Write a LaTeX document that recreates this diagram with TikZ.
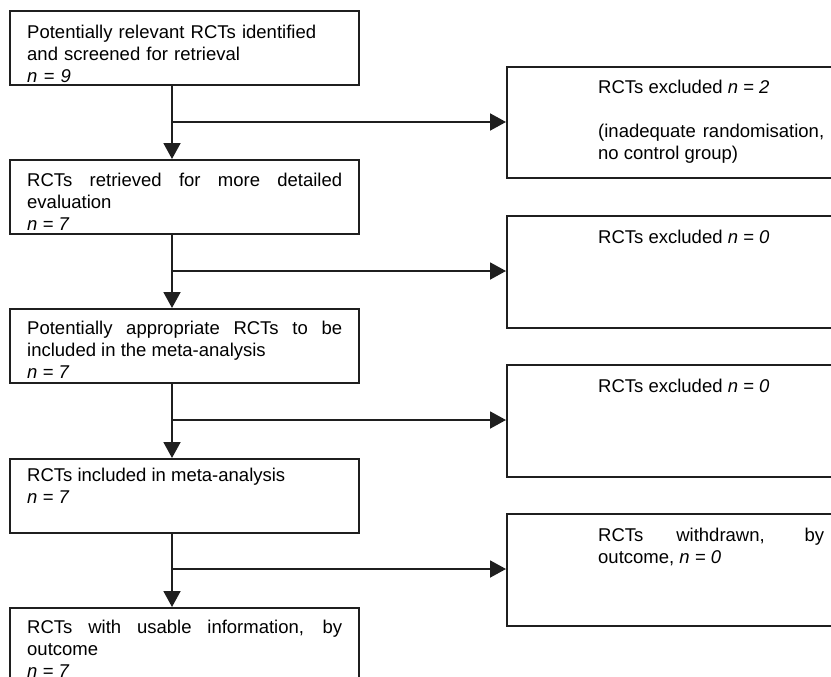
\documentclass[tikz,border=0pt]{standalone}
\usepackage{fontspec}
\setmainfont{Liberation Sans}
\usetikzlibrary{arrows.meta,calc}
\hyphenpenalty=10000
\exhyphenpenalty=10000
\tikzset{
  box/.style={draw=black!88, line width=1.9pt, rectangle, anchor=north west, inner sep=0pt},
  txt/.style={anchor=north west, inner sep=0pt, font=\fontsize{18.5}{22}\selectfont, align=justify},
  lefttxt/.style={txt, text width=315pt},
  righttxt/.style={txt, text width=226pt},
  ln/.style={draw=black!88, line width=1.9pt},
  arr/.style={ln, -{Triangle[length=16pt,width=17pt]}}
}
\begin{document}
\begin{tikzpicture}[x=1pt,y=-1pt]
\useasboundingbox (0,0) rectangle (831,677);
\clip (0,0) rectangle (831,677);
\fill[white] (0,0) rectangle (831,677);
% left boxes
\node[box, minimum width=349pt, minimum height=74pt] (L1) at (9,10) {};
\node[box, minimum width=349pt, minimum height=74pt] (L2) at (9,159) {};
\node[box, minimum width=349pt, minimum height=74pt] (L3) at (9,308) {};
\node[box, minimum width=349pt, minimum height=74pt] (L4) at (9,458) {};
\node[box, minimum width=349pt, minimum height=110pt] (L5) at (9,607) {};
% right boxes
\node[box, minimum width=360pt, minimum height=111pt] (R1) at (506,66) {};
\node[box, minimum width=360pt, minimum height=112pt] (R2) at (506,215) {};
\node[box, minimum width=360pt, minimum height=112pt] (R3) at (506,364) {};
\node[box, minimum width=360pt, minimum height=112pt] (R4) at (506,513) {};
% texts
\node[lefttxt, align=left] (T1) at (27,25) {Potentially relevant RCTs identified\\and screened for retrieval\\\textit{n = 9}};
\node[lefttxt] (T2) at (27,173) {RCTs retrieved for more detailed evaluation\\\textit{n = 7}};
\node[lefttxt] (T3) at (27,321) {Potentially appropriate RCTs to be included in the meta-analysis\\\textit{n = 7}};
\node[lefttxt] (T4) at (27,468) {RCTs included in meta-analysis\\\textit{n = 7}};
\node[lefttxt] (T5) at (27,620) {RCTs with usable information, by outcome\\\textit{n = 7}};
\node[righttxt] (U1) at (598,80) {RCTs excluded \textit{n = 2}\\[22pt](inadequate randomisation, no control group)};
\node[righttxt] (U2) at (598,230) {RCTs excluded \textit{n = 0}};
\node[righttxt] (U3) at (598,379) {RCTs excluded \textit{n = 0}};
\node[righttxt] (U4) at (598,528) {RCTs withdrawn, by outcome, \textit{n = 0}};
% junctions
\coordinate (s1) at (172,122);
\coordinate (s2) at (172,271);
\coordinate (s3) at (172,420);
\coordinate (s4) at (172,569);
% connectors
\draw[ln] (L1.south -| s1) -- (s1);
\draw[arr] (s1) -- (L2.north -| s1);
\draw[arr] (s1) -- (s1 -| R1.west);
\draw[ln] (L2.south -| s2) -- (s2);
\draw[arr] (s2) -- (L3.north -| s2);
\draw[arr] (s2) -- (s2 -| R2.west);
\draw[ln] (L3.south -| s3) -- (s3);
\draw[arr] (s3) -- (L4.north -| s3);
\draw[arr] (s3) -- (s3 -| R3.west);
\draw[ln] (L4.south -| s4) -- (s4);
\draw[arr] (s4) -- (L5.north -| s4);
\draw[arr] (s4) -- (s4 -| R4.west);
\end{tikzpicture}
\end{document}
